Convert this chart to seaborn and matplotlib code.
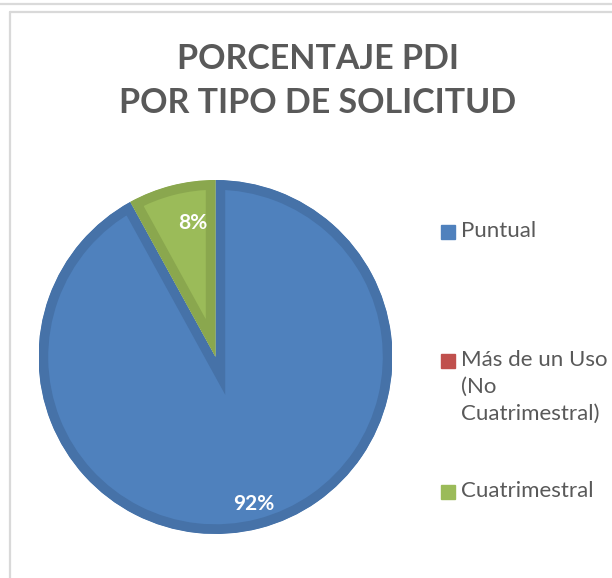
import numpy as np
import matplotlib.pyplot as plt
import matplotlib.patches as mpatches
from matplotlib.lines import Line2D
import seaborn as sns

# ==============================
# Data
# ==============================
categories = ["Puntual", "Más de un Uso\n(No\nCuatrimestral)", "Cuatrimestral"]
percentages = [92, 0, 8]
fill_colors = ["#4F81BD", "#C0504D", "#9BBB59"]
edge_colors = ["#4672A8", "#A94441", "#8AA74E"]
title = "PORCENTAJE PDI\nPOR TIPO DE SOLICITUD"

# label placement (radius fraction, angle shift in degrees)
label_dist = [0.86, 0.85, 0.77]
label_shift = [0, 0, -5]

# ==============================
# Style
# ==============================
sns.set_theme(style="white")
plt.rcParams["font.family"] = ["Lato", "DejaVu Sans"]
TEXT_GREY = "#595959"

W, H = 612, 578
fig = plt.figure(figsize=(W / 100, H / 100), dpi=100)

# frame lines (chart border)
fig.add_artist(Line2D([0, 1], [1 - 4 / H, 1 - 4 / H], color="#DADADA", lw=1.6))
fig.add_artist(Line2D([9.5 / W, 1], [1 - 12 / H, 1 - 12 / H], color="#D9D9D9", lw=1.6))
fig.add_artist(Line2D([9.5 / W, 9.5 / W], [0, 1 - 12 / H], color="#D9D9D9", lw=1.6))

# ==============================
# Pie
# ==============================
cx, cy, r = 215.5, 357, 177
ax = fig.add_axes([(cx - r) / W, (H - cy - r) / H, 2 * r / W, 2 * r / H])

wedges, _, autotexts = ax.pie(
    percentages,
    colors=fill_colors,
    startangle=90,
    counterclock=False,
    radius=1,
    autopct=lambda p: f"{p:.0f}%" if p > 0.5 else "",
    wedgeprops=dict(linewidth=14, joinstyle="miter"),
    textprops=dict(color="white", fontsize=15, fontweight="bold"),
)
for w, ec, t, d, s in zip(wedges, edge_colors, autotexts, label_dist, label_shift):
    w.set_edgecolor(ec)
    # inner stroke only: clip the border to the wedge itself
    w.set_clip_path(w.get_path(), w.get_transform())
    w.set_clip_on(True)
    mid = np.deg2rad((w.theta1 + w.theta2) / 2 + s)
    t.set_position((d * np.cos(mid), d * np.sin(mid)))

ax.set_xlim(-1, 1)
ax.set_ylim(-1, 1)
ax.set_aspect("equal")
ax.axis("off")

# ==============================
# Title
# ==============================
fig.text(318 / W, 1 - 81 / H, title, ha="center", va="center",
         fontsize=24.5, fontweight="bold", color=TEXT_GREY, linespacing=1.45)

# ==============================
# Legend (Excel style, right side)
# ==============================
legend_y = [232, 361, 492]
for cat, col, y in zip(categories, fill_colors, legend_y):
    fig.add_artist(mpatches.Rectangle((441 / W, 1 - (y + 7) / H), 14 / W, 14 / H,
                                      transform=fig.transFigure, color=col))
    fig.text(461 / W, 1 - (y - 11) / H, cat, ha="left", va="top",
             fontsize=16, color=TEXT_GREY, linespacing=1.42)

plt.savefig("out.png", dpi=100)
plt.close()
